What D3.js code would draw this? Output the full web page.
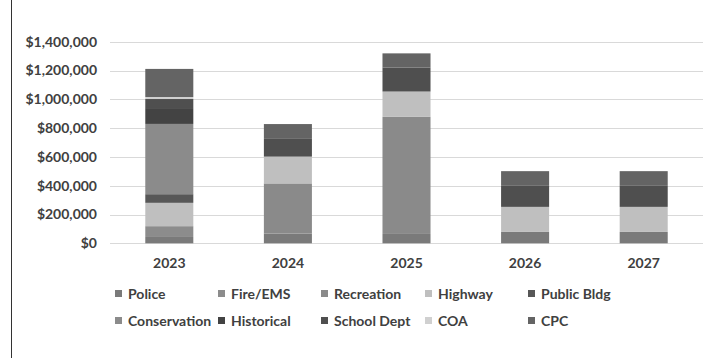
<!DOCTYPE html>
<html>
<head>
<meta charset="utf-8">
<script src="https://cdn.jsdelivr.net/npm/d3@7"></script>
<style>
  html, body { margin: 0; padding: 0; background: #fff; }
  svg { display: block; }
  text { font-family: Lato, "Open Sans", sans-serif; font-weight: 700; fill: #404040; }
</style>
</head>
<body>
<svg id="chart" width="715" height="358"></svg>
<script>
// Capital budget by department and year
const years = ["2023", "2024", "2025", "2026", "2027"];
const departments = ["Police", "Fire/EMS", "Recreation", "Highway", "Public Bldg",
                     "Conservation", "Historical", "School Dept", "COA", "CPC"];

const police       = [44000, 68000, 65000, 79000, 79000];
const fireEms      = [75000, 0, 0, 0, 0];
const recreation   = [0, 348000, 813000, 0, 0];
const highway      = [162000, 186000, 176000, 174000, 174000];
const publicBldg   = [60000, 0, 0, 0, 0];
const conservation = [488000, 0, 0, 0, 0];
const historical   = [110000, 0, 0, 0, 0];
const schoolDept   = [63000, 123000, 167000, 146000, 146000];
const coa          = [14000, 0, 0, 0, 0];
const cpc          = [195000, 103000, 98000, 102000, 102000];

const yTicks = [0, 200000, 400000, 600000, 800000, 1000000, 1200000, 1400000];

const seriesValues = [police, fireEms, recreation, highway, publicBldg,
                      conservation, historical, schoolDept, coa, cpc];
const colors = ["#7a7a7a", "#8c8c8c", "#8a8a8a", "#bfbfbf", "#575757",
                "#8b8b8b", "#434343", "#4f4f4f", "#d0d0d0", "#646464"];

// Build table rows for d3.stack
const rows = years.map((y, i) => {
  const r = { year: y };
  departments.forEach((d, k) => { r[d] = seriesValues[k][i]; });
  return r;
});

const svg = d3.select("#chart");

// Chart-area frame
svg.append("rect")
  .attr("x", 11.5).attr("y", -10).attr("width", 720).attr("height", 380)
  .attr("fill", "none").attr("stroke", "#333").attr("stroke-width", 1);

const x = d3.scaleBand().domain(years).range([110, 703])
  .paddingInner(0.595).paddingOuter(0.2975);
const y = d3.scaleLinear().domain([0, 1400000]).range([243.3, 41.7]);

// Gridlines
svg.append("g")
  .selectAll("line").data(yTicks).join("line")
  .attr("x1", 110).attr("x2", 703)
  .attr("y1", d => Math.round(y(d)) + 0.5).attr("y2", d => Math.round(y(d)) + 0.5)
  .attr("stroke", "#d9d9d9").attr("stroke-width", 1);

// Y axis labels
const yAxis = d3.axisLeft(y).tickValues(yTicks).tickSize(0).tickPadding(0)
  .tickFormat(d => "$" + d3.format(",")(d));
const gy = svg.append("g").attr("transform", "translate(97,0)").call(yAxis);
gy.select(".domain").remove();
gy.selectAll("text").attr("font-size", 14).attr("fill", "#404040")
  .style("font-family", "Lato, sans-serif").style("font-weight", 700);

// Stacked bars
const stack = d3.stack().keys(departments);
const layers = stack(rows);
svg.append("g").selectAll("g").data(layers).join("g")
  .attr("fill", (d, i) => colors[i])
  .selectAll("rect").data(d => d).join("rect")
  .attr("x", d => x(d.data.year))
  .attr("width", x.bandwidth())
  .attr("y", d => y(d[1]))
  .attr("height", d => y(d[0]) - y(d[1]));

// X axis labels
const xAxis = d3.axisBottom(x).tickSize(0).tickPadding(0);
const gx = svg.append("g").attr("transform", "translate(0,258)").call(xAxis);
gx.select(".domain").remove();
gx.selectAll("text").attr("font-size", 14).attr("fill", "#404040")
  .attr("dy", "0.71em")
  .style("font-family", "Lato, sans-serif").style("font-weight", 700);

// Legend: two rows of five
const legendCols = [115, 218, 321, 425, 528];
const legendRows = [294, 321];
const legend = svg.append("g").selectAll("g").data(departments).join("g")
  .attr("transform", (d, i) => `translate(${legendCols[i % 5]},${legendRows[Math.floor(i / 5)]})`);
legend.append("rect")
  .attr("x", 0).attr("y", -4).attr("width", 7).attr("height", 7)
  .attr("fill", (d, i) => colors[i]);
legend.append("text")
  .attr("x", 13).attr("dy", "0.35em")
  .attr("font-size", 14)
  .text(d => d);
</script>
</body>
</html>
